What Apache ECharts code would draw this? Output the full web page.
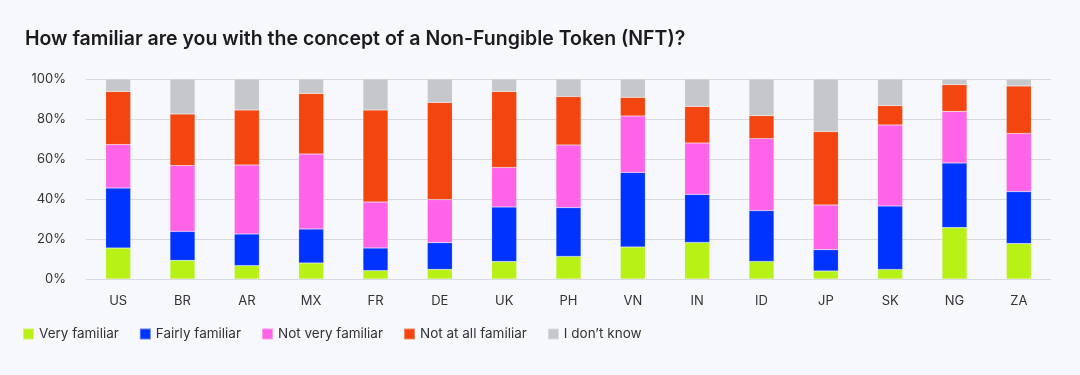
<!DOCTYPE html>
<html>
<head>
<meta charset="utf-8">
<script src="https://cdn.jsdelivr.net/npm/echarts@6/dist/echarts.min.js"></script>
<style>
  html, body { margin: 0; padding: 0; background: #f7f8fd; }
  #chart { width: 1080px; height: 375px; }
</style>
</head>
<body>
<div id="chart"></div>
<script>
// countries on the x axis
const countries = ['US', 'BR', 'AR', 'MX', 'FR', 'DE', 'UK', 'PH', 'VN', 'IN', 'ID', 'JP', 'SK', 'NG', 'ZA'];

// shares in %
const veryFamiliar     = [15.5, 9.3, 6.7, 8.0, 4.2, 4.8, 8.7, 11.3, 16.0, 18.3, 8.8, 4.0, 4.8, 25.7, 17.7];
const fairlyFamiliar   = [30.0, 14.5, 15.8, 17.0, 11.3, 13.4, 27.3, 24.4, 37.3, 24.0, 25.4, 10.7, 31.7, 32.3, 26.0];
const notVeryFamiliar  = [21.7, 32.9, 34.5, 37.5, 23.0, 21.5, 19.8, 31.3, 28.2, 25.7, 36.0, 22.3, 40.5, 25.8, 29.1];
const notAtAllFamiliar = [26.6, 25.8, 27.5, 30.3, 46.0, 48.6, 38.0, 24.2, 9.3, 18.3, 11.5, 36.7, 9.7, 13.4, 23.7];
const dontKnow         = [6.2, 17.5, 15.5, 7.2, 15.5, 11.7, 6.2, 8.8, 9.2, 13.7, 18.3, 26.3, 13.3, 2.8, 3.5];

const seriesNames = ['Very familiar', 'Fairly familiar', 'Not very familiar', 'Not at all familiar', 'I don\u2019t know'];
const seriesData = [veryFamiliar, fairlyFamiliar, notVeryFamiliar, notAtAllFamiliar, dontKnow];
const colors = ['#b8f116', '#0033ff', '#ff63e8', '#f3450f', '#c6c7ca'];

const yTicks = [0, 20, 40, 60, 80, 100];

const font = 'Inter, "Noto Sans", sans-serif';

const chart = echarts.init(document.getElementById('chart'));

var option = {
    backgroundColor: '#f7f8fd',
    color: colors,
    title: {
        text: 'How familiar are you with the concept of a Non-Fungible Token (NFT)?',
        left: 20,
        top: 24,
        textStyle: { fontFamily: font, fontSize: 19.5, fontWeight: 600, color: '#1a1a1f' }
    },
    legend: {
        left: 17,
        top: 322,
        itemWidth: 11,
        itemHeight: 11,
        itemGap: 20,
        icon: 'rect',
        textStyle: { fontFamily: font, fontSize: 13.5, color: '#333338' },
        data: seriesNames
    },
    grid: { left: 86, right: 29, top: 79, bottom: 96, containLabel: false },
    xAxis: {
        type: 'category',
        data: countries,
        axisLine: { show: false },
        axisTick: { show: false },
        axisLabel: { fontFamily: font, fontSize: 13, color: '#333338', margin: 16 }
    },
    yAxis: {
        type: 'value',
        min: yTicks[0],
        max: yTicks[yTicks.length - 1],
        interval: 20,
        axisLine: { show: false },
        axisTick: { show: false },
        splitLine: { lineStyle: { color: '#d8d9de', width: 1 } },
        axisLabel: { fontFamily: font, fontSize: 13, color: '#333338', margin: 20, formatter: '{value}%' }
    },
    series: seriesNames.map((name, i) => ({
        name: name,
        type: 'bar',
        stack: 'total',
        barWidth: 25,
        data: seriesData[i],
        itemStyle: { borderColor: 'rgba(255,255,255,0.35)', borderWidth: 0.5 }
    }))
};
chart.setOption(option);
</script>
</body>
</html>
